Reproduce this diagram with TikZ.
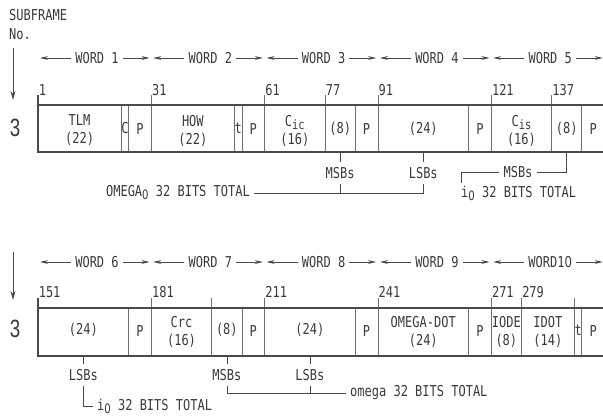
\documentclass[tikz,border=0pt]{standalone}
\usepackage{fontspec}
\setmainfont{DejaVu Sans Mono}[FakeStretch=0.8]
\newfontfamily\numfont{Liberation Sans}[FakeStretch=0.75]
\newfontfamily\zerofont{DejaVu Sans}[FakeStretch=0.78]
\usetikzlibrary{arrows.meta}
\definecolor{ink}{HTML}{3A3A3A}
\definecolor{rulec}{HTML}{4A4A4A}
\definecolor{sepc}{HTML}{707070}
\newcommand\bx[1]{{38+((#1)-1)*3.777}}
\newcommand\cx[2]{{38+((#1)+(#2)-2)/2*3.777}}
\newcommand\sub[1]{\raisebox{-3pt}{\fontsize{13}{13}\selectfont #1}}
\newcommand\zr{{\zerofont 0}}
\begin{document}
\begin{tikzpicture}[x=1pt,y=-1pt,
  lab/.style={font=\fontsize{15}{18}\selectfont, text=ink, inner sep=0pt},
  cell/.style={lab, align=center},
  num/.style={lab, anchor=base west, inner xsep=0.6pt},
  tag/.style={lab, inner ysep=5.5pt},
  outer/.style={draw=rulec, line width=1.3pt},
  sepl/.style={draw=sepc, line width=0.8pt},
  wtip/.style={draw=rulec, line width=0.7pt, -{Stealth[length=8pt,width=3.8pt]}},
  wordlab/.style={lab, inner xsep=4pt},
  downarrow/.style={draw=rulec, line width=0.8pt, -{Stealth[length=9pt,width=5pt]}},
  conn/.style={draw=rulec, line width=0.7pt},
  bignum/.style={font=\numfont\fontsize{25}{25}\selectfont, text=ink, inner sep=0pt},
]
\useasboundingbox (0,0) rectangle (603,416);
\clip (0,0) rectangle (603,416);

% header
\node[lab, anchor=west] (sf) at (9,15) {SUBFRAME};
\node[lab, anchor=west] (no) at (9,34) {No.};
\coordinate (d1s) at (13,48); \coordinate (d1e) at (13,100);
\draw[downarrow] (d1s) -- (d1e);
\coordinate (d2s) at (13,252); \coordinate (d2e) at (13,300);
\draw[downarrow] (d2s) -- (d2e);
\node[bignum] (r1) at (15,128) {3};
\node[bignum] (r2) at (15,329) {3};

% word arrows
\foreach \i/\t in {1/WORD 1,2/WORD 2,3/WORD 3,4/WORD 4,5/WORD 5}{
  \pgfmathsetmacro\xs{38+30*(\i-1)*3.777}
  \node[wordlab] (wa\i) at (\xs+59,58) {\t};
  \draw[wtip] (wa\i.west) -- (\xs+2,58);
  \draw[wtip] (wa\i.east) -- (\xs+111.5,58);
}
\foreach \i/\t in {1/WORD 6,2/WORD 7,3/WORD 8,4/WORD 9,5/WORD1\zr}{
  \pgfmathsetmacro\xs{38+30*(\i-1)*3.777}
  \node[wordlab] (wb\i) at (\xs+59,262) {\t};
  \draw[wtip] (wb\i.west) -- (\xs+2,262);
  \draw[wtip] (wb\i.east) -- (\xs+111.5,262);
}

% ---------- row 1 ----------
\foreach \b in {23,25,31,53,55,61,77,85,91,115,121,137,145}
  \draw[sepl] (\bx{\b},105) -- (\bx{\b},152);
\foreach \b in {31,61,77,91,121,137}
  \draw[sepl] (\bx{\b},95) -- (\bx{\b},105);
\foreach \b in {1,31,61,77,91,121,137}
  \node[num] at (\bx{\b},95) {\b};
\draw[outer] (38,95) -- (38,152);
\draw[outer] (38,105) -- (610,105);
\draw[outer] (37.35,152) -- (610,152);

\node[cell] (tlm) at (\cx{1}{23},130.5) {TLM\\(22)};
\node[cell] (c1) at (\cx{23}{25},128.5) {C};
\node[cell] (p1) at (\cx{25}{31},129) {P};
\node[cell] (how) at (\cx{31}{53},130.5) {HOW\\(22)};
\node[cell] (t1) at (\cx{53}{55},128.5) {t};
\node[cell] (p2) at (\cx{55}{61},129) {P};
\node[cell] (cic) at (\cx{61}{77},130.5) {C\sub{ic}\\(16)};
\node[cell] (e1) at (\cx{77}{85},129) {(8)};
\node[cell] (p3) at (\cx{85}{91},129) {P};
\node[cell] (f1) at (\cx{91}{115},129) {(24)};
\node[cell] (p4) at (\cx{115}{121},129) {P};
\node[cell] (cis) at (\cx{121}{137},130.5) {C\sub{is}\\(16)};
\node[cell] (e2) at (\cx{137}{145},129) {(8)};
\node[cell] (p5) at (\cx{145}{151},129) {P};

% row 1 annotations
\node[tag] (msbA) at (\cx{77}{85},173) {MSBs};
\node[tag] (lsbA) at (\cx{91}{115},173) {LSBs};
\coordinate (bA) at (\cx{77}{85},152);
\coordinate (bB) at (\cx{91}{115},152);
\draw[conn] (bA) -- (msbA.north);
\draw[conn] (bB) -- (lsbA.north);
\node[lab, anchor=east, inner xsep=4pt] (om0) at (254,193) {OMEGA\sub{\zr} 32 BITS TOTAL};
\draw[conn] (om0.east) -| (lsbA.south);
\draw[conn] (msbA.south) -- (msbA.south |- om0.east);

\coordinate (bC) at (\cx{137}{145},152);
\node[lab, inner xsep=4pt] (msbB) at (518,172) {MSBs};
\draw[conn] (bC) |- (msbB.east);
\node[lab, anchor=west] (i0A) at (461,193) {i\sub{\zr} 32 BITS TOTAL};
\coordinate (i0At) at (461,183);
\draw[conn] (msbB.west) -| (i0At);

% ---------- row 2 ----------
\foreach \b in {25,31,47,55,61,85,91,115,121,129,143,145}
  \draw[sepl] (\bx{\b},308) -- (\bx{\b},356);
\foreach \b in {31,47,61,91,121,129,143}
  \draw[sepl] (\bx{\b},298) -- (\bx{\b},308);
\foreach \b/\l in {1/151,31/181,61/211,91/241,121/271,129/279}
  \node[num] at (\bx{\b},297) {\l};
\draw[outer] (38,298) -- (38,356);
\draw[outer] (38,308) -- (610,308);
\draw[outer] (37.35,356) -- (610,356);

\node[cell] (g1) at (\cx{1}{25},330) {(24)};
\node[cell] (p6) at (\cx{25}{31},331) {P};
\node[cell] (crc) at (\cx{31}{47},331.5) {Crc\\(16)};
\node[cell] (e3) at (\cx{47}{55},330) {(8)};
\node[cell] (p7) at (\cx{55}{61},331) {P};
\node[cell] (g2) at (\cx{61}{85},330) {(24)};
\node[cell] (p8) at (\cx{85}{91},331) {P};
\node[cell] (odot) at (\cx{91}{115},331.5) {OMEGA-DOT\\(24)};
\node[cell] (p9) at (\cx{115}{121},331) {P};
\node[cell] (iode) at (\cx{121}{129},331.5) {IODE\\(8)};
\node[cell] (idot) at (\cx{129}{143},331.5) {IDOT\\(14)};
\node[cell] (t2) at (\cx{143}{145},330) {t};
\node[cell] (p10) at (\cx{145}{151},331) {P};

% row 2 annotations
\node[tag] (lsbC) at (\cx{1}{25},375) {LSBs};
\coordinate (bD) at (\cx{1}{25},356);
\draw[conn] (bD) -- (lsbC.north);
\node[lab, anchor=west, inner xsep=4pt] (i0B) at (93,406) {i\sub{\zr} 32 BITS TOTAL};
\draw[conn] (lsbC.south) |- (i0B.west);

\node[tag] (msbD) at (\cx{47}{55},375) {MSBs};
\node[tag] (lsbE) at (\cx{61}{85},375) {LSBs};
\coordinate (bE) at (\cx{47}{55},356);
\coordinate (bF) at (\cx{61}{85},356);
\draw[conn] (bE) -- (msbD.north);
\draw[conn] (bF) -- (lsbE.north);
\node[lab, anchor=west, inner xsep=4pt] (omg) at (346,393) {omega 32 BITS TOTAL};
\draw[conn] (msbD.south) |- (omg.west);
\draw[conn] (lsbE.south) -- (lsbE.south |- omg.west);
\end{tikzpicture}
\end{document}
